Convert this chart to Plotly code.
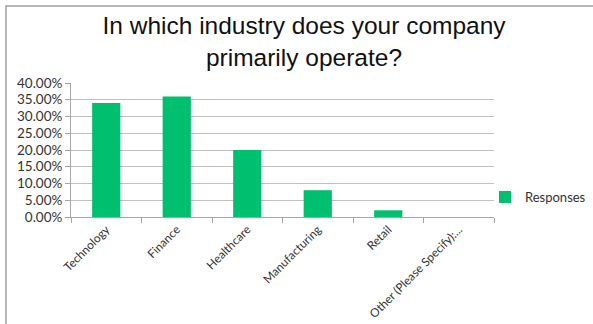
import plotly.graph_objects as go

industries = ["Technology", "Finance", "Healthcare", "Manufacturing", "Retail",
              "Other (Please Specify):..."]
responses = [0.34, 0.36, 0.20, 0.08, 0.02, 0.0]
y_ticks = [0, 0.05, 0.10, 0.15, 0.20, 0.25, 0.30, 0.35, 0.40]
y_tick_labels = [f"{v * 100:.2f}%" for v in y_ticks]

W, H = 593, 324
L, R, T, B = 71, 99, 83, 107
pw, ph = W - L - R, H - T - B

def px_x(x):
    return (x - L) / pw

def px_y(y):
    return (H - B - y) / ph

label_font = "Lato, Liberation Sans, sans-serif"

fig = go.Figure()
fig.add_trace(go.Bar(
    x=industries, y=responses, name="Responses",
    marker=dict(color="#00BF6F", line=dict(width=0)),
    showlegend=True,
))

fig.update_layout(
    width=W, height=H,
    margin=dict(l=L, r=R, t=T, b=B, pad=0, autoexpand=False),
    paper_bgcolor="white", plot_bgcolor="white",
    bargap=0.6,
    font=dict(family=label_font, color="#333333"),
    title=dict(
        text="In which industry does your company<br>primarily operate?",
        x=304 / W, xref="container", xanchor="center",
        y=1 - 34 / H, yref="container", yanchor="middle",
        font=dict(family="Liberation Sans, Arial, sans-serif", size=24.5, color="#111111"),
    ),
    legend=dict(
        x=485 / W, y=1 - 197 / H, xref="container", yref="container",
        xanchor="left", yanchor="middle",
        font=dict(family=label_font, size=13, color="#333333"),
        itemwidth=30, bgcolor="rgba(0,0,0,0)",
    ),
    xaxis=dict(
        type="category", tickangle=-45, tickson="boundaries",
        ticks="outside", ticklen=5, tickcolor="#a6a6a6",
        showline=True, linecolor="#a6a6a6", linewidth=1, automargin=False,
        showgrid=False, tickfont=dict(family=label_font, size=11.8, color="#333333"),
    ),
    yaxis=dict(
        range=[0, 0.40], tickvals=y_ticks, ticktext=y_tick_labels,
        ticks="outside", ticklen=5, tickcolor="#a6a6a6", automargin=False,
        showline=True, linecolor="#a6a6a6", linewidth=1,
        showgrid=True, gridcolor="#c0c0c0", gridwidth=1,
        zeroline=False, tickfont=dict(family=label_font, size=13.5, color="#333333"),
    ),
    shapes=[dict(
        type="rect", xref="paper", yref="paper",
        x0=px_x(6), x1=px_x(W + 10), y0=px_y(H + 10), y1=px_y(6),
        line=dict(color="#a0a0a0", width=1.5), fillcolor="rgba(0,0,0,0)",
        layer="below",
    )],
)

fig.write_html("out.html")
